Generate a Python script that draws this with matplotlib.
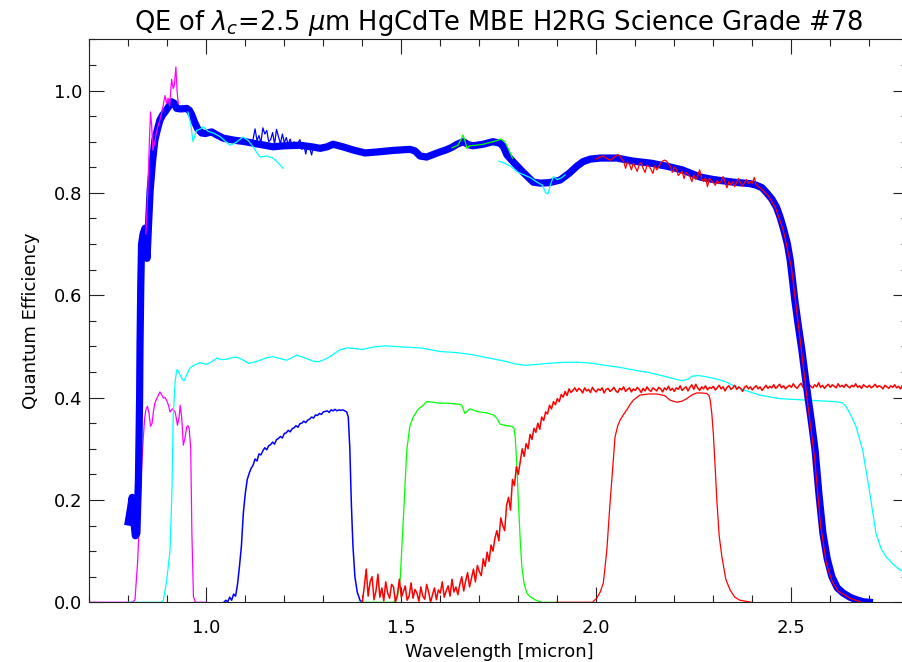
import numpy as np
import matplotlib
matplotlib.use("Agg")
import matplotlib.pyplot as plt
from matplotlib.ticker import MultipleLocator

plt.rcParams['font.family'] = ['DejaVu Sans']
plt.rcParams['mathtext.fontset'] = 'dejavusans'

# ---------------- data (wavelength in micron, QE) ----------------
# thick blue: overall QE
qe_x = [0.800, 0.806, 0.810, 0.814, 0.818, 0.822, 0.826, 0.829, 0.830, 0.832, 0.834, 0.838,
        0.843, 0.846, 0.848, 0.852, 0.856, 0.862, 0.868, 0.875, 0.881, 0.888, 0.894, 0.903,
        0.911, 0.918, 0.924, 0.935, 0.950, 0.957, 0.963, 0.970, 0.978, 0.988, 0.998, 1.007,
        1.014, 1.025, 1.043, 1.07, 1.10, 1.12, 1.15, 1.171, 1.20, 1.24, 1.27, 1.292, 1.31,
        1.325, 1.35, 1.38, 1.407, 1.44, 1.48, 1.522, 1.535, 1.548, 1.565, 1.592, 1.615, 1.630,
        1.643, 1.659, 1.672, 1.684, 1.71, 1.735, 1.753, 1.762, 1.771, 1.790, 1.81, 1.838, 1.856,
        1.88, 1.907, 1.93, 1.95, 1.966, 1.985, 2.010, 2.053, 2.094, 2.14, 2.181, 2.22, 2.266,
        2.30, 2.350, 2.394, 2.41, 2.425, 2.438, 2.45, 2.462, 2.471, 2.480, 2.490, 2.497, 2.503,
        2.509, 2.518, 2.527, 2.535, 2.543, 2.552, 2.561, 2.571, 2.581, 2.592, 2.604, 2.618,
        2.633, 2.650, 2.667, 2.684, 2.700]
qe_y = [0.157, 0.185, 0.205, 0.16, 0.13, 0.135, 0.24, 0.40, 0.50, 0.62, 0.70, 0.72,
        0.731, 0.70, 0.672, 0.74, 0.805, 0.86, 0.903, 0.925, 0.942, 0.952, 0.958, 0.968,
        0.978, 0.975, 0.965, 0.964, 0.965, 0.961, 0.952, 0.938, 0.925, 0.917, 0.916, 0.918,
        0.919, 0.914, 0.907, 0.903, 0.900, 0.897, 0.893, 0.890, 0.892, 0.893, 0.890, 0.887, 0.890,
        0.895, 0.890, 0.883, 0.878, 0.880, 0.883, 0.885, 0.882, 0.872, 0.870, 0.878, 0.884, 0.889,
        0.895, 0.900, 0.894, 0.892, 0.895, 0.900, 0.897, 0.890, 0.874, 0.858, 0.842, 0.821, 0.819,
        0.820, 0.825, 0.838, 0.852, 0.861, 0.866, 0.868, 0.868, 0.862, 0.858, 0.852, 0.845, 0.831,
        0.826, 0.821, 0.818, 0.815, 0.810, 0.799, 0.788, 0.772, 0.753, 0.73, 0.70, 0.669, 0.63,
        0.590, 0.54, 0.493, 0.445, 0.399, 0.35, 0.297, 0.21, 0.135, 0.085, 0.050, 0.028,
        0.018, 0.010, 0.005, 0.001, 0.000]

# magenta (low)
mag_lo_x = [0.70, 0.81, 0.817, 0.824, 0.830, 0.834, 0.838, 0.842, 0.845, 0.849, 0.853, 0.857,
            0.861, 0.864, 0.868, 0.874, 0.881, 0.886, 0.890, 0.894, 0.898, 0.903, 0.907, 0.913,
            0.920, 0.923, 0.926, 0.930, 0.933, 0.937, 0.941, 0.945, 0.950, 0.953, 0.956, 0.960,
            0.963, 0.967, 0.972, 0.98, 1.0]
mag_lo_y = [0.0, 0.0, 0.004, 0.08, 0.187, 0.26, 0.317, 0.36, 0.376, 0.383, 0.37, 0.344,
            0.35, 0.37, 0.389, 0.40, 0.411, 0.405, 0.399, 0.40, 0.395, 0.385, 0.372, 0.378,
            0.372, 0.36, 0.346, 0.36, 0.385, 0.36, 0.307, 0.32, 0.343, 0.345, 0.34, 0.30,
            0.136, 0.011, 0.0, 0.0, 0.0]
# magenta (high)
mag_hi_x = [0.845, 0.850, 0.854, 0.857, 0.860, 0.863, 0.868, 0.874, 0.881, 0.888, 0.894,
            0.898, 0.902, 0.906, 0.911, 0.915, 0.918, 0.922, 0.925, 0.928]
mag_hi_y = [0.72, 0.80, 0.90, 0.958, 0.93, 0.883, 0.90, 0.925, 0.942, 0.965, 0.990,
            0.975, 0.985, 0.97, 1.022, 1.004, 1.01, 1.046, 1.0, 0.975]

# cyan (low)
cya_lo_x = [0.80, 0.885, 0.890, 0.898, 0.907, 0.912, 0.915, 0.920, 0.924, 0.928, 0.933, 0.938,
            0.943, 0.950, 0.958, 0.970, 0.984, 1.001, 1.014, 1.027, 1.040, 1.052, 1.065, 1.078,
            1.093, 1.108, 1.122, 1.138, 1.155, 1.172, 1.19, 1.206, 1.22, 1.232, 1.247, 1.261,
            1.274, 1.287, 1.302, 1.317, 1.33, 1.343, 1.36, 1.38, 1.40, 1.43, 1.46, 1.50, 1.55,
            1.599, 1.64, 1.68, 1.72, 1.766, 1.79, 1.817, 1.85, 1.877, 1.92, 1.955, 1.99, 2.023,
            2.06, 2.109, 2.135, 2.177, 2.220, 2.235, 2.246, 2.262, 2.280, 2.31, 2.331, 2.366,
            2.418, 2.469, 2.537, 2.614, 2.630, 2.640, 2.653, 2.666, 2.683, 2.700, 2.717, 2.730,
            2.743, 2.760, 2.777, 2.80]
cya_lo_y = [0.0, 0.0, 0.004, 0.04, 0.102, 0.22, 0.3625, 0.43, 0.454, 0.452, 0.444, 0.436,
            0.433, 0.445, 0.458, 0.464, 0.468, 0.465, 0.47, 0.477, 0.474, 0.475, 0.478, 0.479,
            0.474, 0.467, 0.469, 0.473, 0.478, 0.480, 0.476, 0.473, 0.478, 0.483, 0.479, 0.475,
            0.471, 0.470, 0.474, 0.480, 0.487, 0.493, 0.497, 0.496, 0.494, 0.499, 0.501, 0.499,
            0.497, 0.490, 0.488, 0.484, 0.478, 0.471, 0.466, 0.463, 0.465, 0.467, 0.469, 0.469,
            0.467, 0.463, 0.459, 0.452, 0.449, 0.441, 0.433, 0.436, 0.442, 0.443, 0.441, 0.436,
            0.431, 0.418, 0.405, 0.398, 0.395, 0.392, 0.39, 0.383, 0.365, 0.343, 0.297, 0.219,
            0.135, 0.105, 0.089, 0.075, 0.064, 0.057]
# cyan (high), two pieces
cya_hi1_x = [0.953, 0.960, 0.966, 0.975, 0.985, 0.992, 1.005, 1.018, 1.035, 1.050, 1.061,
             1.075, 1.094, 1.108, 1.120, 1.130, 1.138, 1.155, 1.171, 1.185, 1.197]
cya_hi1_y = [0.958, 0.935, 0.90, 0.922, 0.925, 0.929, 0.920, 0.917, 0.910, 0.900, 0.893,
             0.898, 0.909, 0.902, 0.890, 0.878, 0.870, 0.872, 0.868, 0.858, 0.848]
cya_hi2_x = [1.75, 1.765, 1.78, 1.80, 1.83, 1.85, 1.862, 1.87, 1.876, 1.882, 1.89, 1.90,
             1.91, 1.92]
cya_hi2_y = [0.862, 0.858, 0.852, 0.84, 0.83, 0.82, 0.815, 0.80, 0.798, 0.815, 0.832, 0.826,
             0.829, 0.835]

# blue (low): sampled every 0.005 micron from 1.045, then fall-off
blu_lo_start, blu_lo_step = 1.045, 0.005
blu_lo_vals = [0.0, 0.004, 0.001, 0.010, 0.004, 0.016, 0.012, 0.035, 0.07, 0.11, 0.175,
               0.213, 0.240, 0.252, 0.262, 0.268, 0.280, 0.276, 0.290, 0.288, 0.296,
               0.302, 0.298, 0.306, 0.308, 0.313, 0.309, 0.318, 0.320, 0.324, 0.321,
               0.330, 0.331, 0.336, 0.333, 0.339, 0.341, 0.345, 0.342, 0.349, 0.350,
               0.354, 0.351, 0.356, 0.358, 0.362, 0.360, 0.366, 0.365, 0.369, 0.367,
               0.372, 0.373, 0.374, 0.371, 0.376, 0.374, 0.377, 0.374, 0.376, 0.375,
               0.376, 0.374]
blu_lo_tail_x = [1.360, 1.364, 1.368, 1.372, 1.376, 1.381, 1.387, 1.394, 1.40]
blu_lo_tail_y = [0.372, 0.362, 0.30, 0.19, 0.11, 0.05, 0.02, 0.004, 0.0]
# blue (high), every 0.005 micron from 1.115
blu_hi_start, blu_hi_step = 1.115, 0.005
blu_hi_vals = [0.900, 0.905, 0.925, 0.902, 0.912, 0.898, 0.927, 0.915, 0.922, 0.900,
               0.904, 0.918, 0.895, 0.924, 0.910, 0.896, 0.915, 0.898, 0.908, 0.895,
               0.905, 0.893, 0.900, 0.889, 0.898, 0.904, 0.885, 0.893, 0.876, 0.895,
               0.888, 0.874, 0.892, 0.886, 0.890, 0.886, 0.893, 0.888, 0.890, 0.886,
               0.891, 0.888, 0.895, 0.890, 0.893, 0.889, 0.892, 0.888, 0.889, 0.886,
               0.884, 0.882]

# green (low)
grn_lo_x = [1.39, 1.48, 1.49, 1.497, 1.505, 1.514, 1.522, 1.531, 1.543, 1.556, 1.565, 1.58,
            1.599, 1.62, 1.646, 1.655, 1.663, 1.67, 1.676, 1.69, 1.701, 1.72, 1.736, 1.745,
            1.753, 1.77, 1.783, 1.789, 1.792, 1.796, 1.800, 1.805, 1.809, 1.815, 1.822, 1.830,
            1.845, 1.86, 1.898]
grn_lo_y = [0.0, 0.0, 0.01, 0.044, 0.16, 0.297, 0.345, 0.3625, 0.377, 0.385, 0.392, 0.391,
            0.389, 0.389, 0.387, 0.385, 0.369, 0.374, 0.378, 0.374, 0.372, 0.370, 0.366, 0.360,
            0.348, 0.345, 0.344, 0.340, 0.323, 0.27, 0.200, 0.12, 0.070, 0.035, 0.018, 0.011,
            0.004, 0.0, 0.0]
# green (high)
grn_hi_x = [1.63, 1.645, 1.652, 1.658, 1.664, 1.668, 1.675, 1.69, 1.71, 1.73, 1.745, 1.755,
            1.765, 1.775, 1.785]
grn_hi_y = [0.888, 0.893, 0.903, 0.913, 0.900, 0.887, 0.892, 0.893, 0.895, 0.899, 0.902,
            0.905, 0.901, 0.885, 0.868]

# red filter (low)
red_k_x = [1.898, 1.99, 2.001, 2.010, 2.018, 2.027, 2.033, 2.039, 2.048, 2.055, 2.061, 2.070,
           2.078, 2.087, 2.095, 2.112, 2.135, 2.155, 2.175, 2.189, 2.206, 2.220, 2.232, 2.245,
           2.257, 2.270, 2.283, 2.289, 2.292, 2.296, 2.300, 2.305, 2.309, 2.315, 2.322, 2.332,
           2.343, 2.355, 2.368, 2.398]
red_k_y = [0.0, 0.0, 0.008, 0.02, 0.038, 0.102, 0.17, 0.232, 0.323, 0.345, 0.356, 0.367,
           0.376, 0.387, 0.395, 0.405, 0.407, 0.407, 0.404, 0.395, 0.391, 0.393, 0.398, 0.405,
           0.409, 0.409, 0.408, 0.404, 0.395, 0.37, 0.33, 0.26, 0.2, 0.13, 0.089, 0.045,
           0.024, 0.01, 0.004, 0.0]

# red noisy (low), every 0.005 micron from 1.400
red_lo_start, red_lo_step = 1.400, 0.005
red_lo_vals = [
    0.000, 0.030, 0.065, 0.012, 0.040, 0.050, 0.005, 0.022, 0.055, 0.010,
    0.028, 0.003, 0.040, 0.018, 0.008, 0.035, 0.030, 0.000, 0.015, 0.045,
    0.010, 0.020, 0.032, 0.004, 0.012, 0.038, 0.008, 0.025, 0.018, 0.002,
    0.030, 0.012, 0.006, 0.035, 0.020, 0.000, 0.015, 0.028, 0.005, 0.024,
    0.018, 0.040, 0.010, 0.022, 0.032, 0.012, 0.045, 0.020, 0.030, 0.015,
    0.035, 0.050, 0.022, 0.042, 0.058, 0.030, 0.048, 0.065, 0.040, 0.072,
    0.060, 0.052, 0.085, 0.070, 0.098, 0.080, 0.112, 0.100, 0.125, 0.140,
    0.120, 0.165, 0.150, 0.140, 0.190, 0.205, 0.180, 0.240, 0.228, 0.265,
    0.250, 0.275, 0.300, 0.285, 0.310, 0.300, 0.328, 0.318, 0.340, 0.332,
    0.350, 0.338, 0.362, 0.355, 0.372, 0.368, 0.385, 0.378, 0.392, 0.386,
    0.398, 0.392, 0.406, 0.401, 0.412, 0.404, 0.417, 0.410, 0.414, 0.419,
    0.412, 0.418, 0.415, 0.409, 0.419, 0.413, 0.416, 0.410, 0.420, 0.414,
    0.411, 0.417, 0.414, 0.419, 0.409, 0.416, 0.418, 0.412, 0.415, 0.420,
    0.413, 0.410, 0.418, 0.415, 0.421, 0.412, 0.416, 0.419, 0.411, 0.417,
    0.414, 0.420, 0.416, 0.410, 0.418, 0.413, 0.421, 0.415, 0.412, 0.419,
    0.416, 0.413, 0.420, 0.417, 0.411, 0.419, 0.415, 0.422, 0.414, 0.418,
    0.412, 0.419, 0.416, 0.423, 0.414, 0.418, 0.421, 0.413, 0.420, 0.425,
    0.416, 0.426, 0.419, 0.414, 0.421, 0.417, 0.423, 0.415, 0.420, 0.418,
    0.422, 0.415, 0.419, 0.424, 0.417, 0.421, 0.413, 0.420, 0.423, 0.416,
    0.419, 0.424, 0.416, 0.421, 0.418, 0.412, 0.420, 0.423, 0.417, 0.421,
    0.415, 0.420, 0.423, 0.417, 0.421, 0.414, 0.419, 0.424, 0.418, 0.422,
    0.419, 0.425, 0.418, 0.422, 0.426, 0.419, 0.423, 0.417, 0.421, 0.424,
    0.420, 0.427, 0.421, 0.418, 0.424, 0.428, 0.420, 0.423, 0.419, 0.426,
    0.422, 0.419, 0.425, 0.421, 0.429, 0.420, 0.424, 0.418, 0.423, 0.426,
    0.420, 0.425, 0.422, 0.419, 0.427, 0.421, 0.424, 0.420, 0.426, 0.422,
    0.419, 0.424, 0.421, 0.427, 0.420, 0.423, 0.418, 0.425, 0.422, 0.420,
    0.424, 0.419, 0.422, 0.426, 0.420, 0.423, 0.421, 0.417, 0.424, 0.421,
    0.418, 0.423, 0.420, 0.425, 0.419, 0.422, 0.417, 0.424, 0.420, 0.422]

# red (high), every 0.005 micron from 2.000, then along the cut-off
red_hi_start, red_hi_step = 2.000, 0.005
red_hi_vals = [
    0.866, 0.868, 0.870, 0.872, 0.871, 0.868, 0.866, 0.864, 0.866, 0.869,
    0.872, 0.875, 0.872, 0.866, 0.862, 0.848, 0.860, 0.856, 0.845, 0.858,
    0.850, 0.842, 0.856, 0.859, 0.848, 0.840, 0.854, 0.852, 0.846, 0.838,
    0.853, 0.845, 0.851, 0.858, 0.862, 0.864, 0.862, 0.857, 0.852, 0.840,
    0.850, 0.846, 0.834, 0.838, 0.842, 0.828, 0.840, 0.836, 0.832, 0.822,
    0.835, 0.826, 0.834, 0.845, 0.828, 0.822, 0.830, 0.812, 0.828, 0.824,
    0.820, 0.815, 0.824, 0.818, 0.823, 0.832, 0.820, 0.810, 0.822, 0.816,
    0.822, 0.812, 0.821, 0.828, 0.819, 0.813, 0.820, 0.826, 0.818, 0.822,
    0.819, 0.830, 0.816, 0.812, 0.810]
red_hi_tail_x = [2.44, 2.46, 2.48, 2.50, 2.52, 2.54, 2.56, 2.575, 2.59, 2.605, 2.62, 2.65, 2.68]
red_hi_tail_y = [0.795, 0.770, 0.725, 0.655, 0.53, 0.40, 0.28, 0.15, 0.075, 0.04, 0.022, 0.008, 0.0]

title = r'QE of $\lambda_c$=2.5 $\mu$m HgCdTe MBE H2RG Science Grade #78'
xlabel = 'Wavelength [micron]'
ylabel = 'Quantum Efficiency'

# ---------------- plot ----------------
fig = plt.figure(figsize=(9.03, 6.62), dpi=100)
ax = fig.add_axes([0.0989, 0.0902, 0.9070, 0.8504])

thin = 0.9
blu_lo_x = blu_lo_start + blu_lo_step * np.arange(len(blu_lo_vals))
blu_hi_x = blu_hi_start + blu_hi_step * np.arange(len(blu_hi_vals))
red_lo_x = red_lo_start + red_lo_step * np.arange(len(red_lo_vals))
red_hi_x = red_hi_start + red_hi_step * np.arange(len(red_hi_vals))

ax.plot(mag_lo_x, mag_lo_y, color='#ff00ff', lw=thin)
ax.plot(cya_lo_x, cya_lo_y, color='#00ffff', lw=thin)
ax.plot(np.concatenate([blu_lo_x, blu_lo_tail_x]),
        np.concatenate([blu_lo_vals, blu_lo_tail_y]), color='#0000ff', lw=1.1)
ax.plot(grn_lo_x, grn_lo_y, color='#00ff00', lw=thin)
ax.plot(red_lo_x, red_lo_vals, color='#ff0000', lw=1.1)
ax.plot(red_k_x, red_k_y, color='#ff0000', lw=thin)

ax.plot(qe_x, qe_y, color='#0000ff', lw=5.2, solid_joinstyle='round')

ax.plot(mag_hi_x, mag_hi_y, color='#ff00ff', lw=thin)
ax.plot(cya_hi1_x, cya_hi1_y, color='#00ffff', lw=thin)
ax.plot(cya_hi2_x, cya_hi2_y, color='#00ffff', lw=thin)
ax.plot(blu_hi_x, blu_hi_vals, color='#0000ff', lw=thin)
ax.plot(grn_hi_x, grn_hi_y, color='#00ff00', lw=thin)
ax.plot(np.concatenate([red_hi_x, red_hi_tail_x]),
        np.concatenate([red_hi_vals, red_hi_tail_y]), color='#ff0000', lw=thin)

ax.set_xlim(0.7, 2.8)
ax.set_ylim(0.0, 1.1)
ax.xaxis.set_major_locator(MultipleLocator(0.5))
ax.xaxis.set_minor_locator(MultipleLocator(0.1))
ax.yaxis.set_major_locator(MultipleLocator(0.2))
ax.yaxis.set_minor_locator(MultipleLocator(0.05))
ax.xaxis.set_major_formatter(matplotlib.ticker.FormatStrFormatter('%.1f'))
ax.yaxis.set_major_formatter(matplotlib.ticker.FormatStrFormatter('%.1f'))

for s in ax.spines.values():
    s.set_linewidth(0.8)
    s.set_color('#222222')
ax.tick_params(which='both', direction='in', top=True, right=True, color='#222222', width=0.8)
ax.tick_params(which='major', length=10.8, labelsize=13)
ax.tick_params(which='minor', length=5.0)
ax.tick_params(axis='y', which='major', pad=5)
ax.tick_params(axis='x', which='major', pad=12)

ax.set_title(title, fontsize=18.5, pad=7)
ax.set_xlabel(xlabel, fontsize=13, labelpad=4)
ax.set_ylabel(ylabel, fontsize=13, labelpad=10)

fig.savefig('out.png', dpi=100)
